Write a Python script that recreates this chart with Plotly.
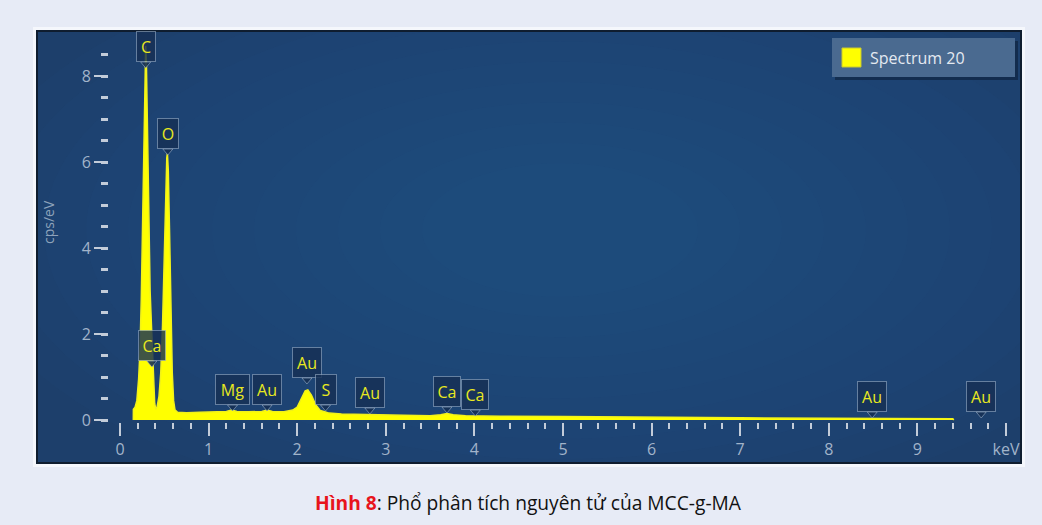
import plotly.graph_objects as go

# ---- spectrum (keV, counts per second per eV) ----
energy_kev = [0.150, 0.151, 0.17, 0.19, 0.21, 0.225, 0.24, 0.255, 0.27, 0.283, 0.29, 0.298,
              0.31, 0.325, 0.34, 0.355, 0.368, 0.38, 0.392, 0.405, 0.42, 0.44, 0.46, 0.48,
              0.50, 0.515, 0.528, 0.535, 0.545, 0.56, 0.575, 0.59, 0.605, 0.62, 0.65, 0.75,
              0.9, 1.1, 1.2, 1.26, 1.32, 1.45, 1.6, 1.66, 1.72, 1.85, 1.95, 2.0, 2.05, 2.09,
              2.12, 2.16, 2.21, 2.26, 2.31, 2.36, 2.5, 2.8, 3.2, 3.5, 3.62, 3.69, 3.76, 3.9,
              4.01, 4.3, 5.0, 6.0, 7.0, 8.0, 8.5, 9.0, 9.4, 9.41]
counts_cps = [0.00, 0.25, 0.30, 0.45, 0.95, 1.6, 2.8, 4.6, 7.0, 8.4, 8.7, 8.3,
              6.8, 4.6, 3.0, 2.2, 1.5, 0.8, 0.38, 0.25, 0.32, 0.55, 1.1, 2.2,
              3.9, 5.4, 6.1, 6.2, 5.8, 4.3, 2.4, 1.1, 0.45, 0.24, 0.18, 0.17,
              0.18, 0.19, 0.2, 0.23, 0.2, 0.19, 0.2, 0.23, 0.2, 0.19, 0.23, 0.3, 0.5, 0.68,
              0.7, 0.58, 0.35, 0.22, 0.19, 0.16, 0.14, 0.12, 0.11, 0.1, 0.12, 0.15, 0.12, 0.1,
              0.1, 0.09, 0.08, 0.06, 0.05, 0.04, 0.04, 0.03, 0.03, 0.0]

# ---- element markers ----
peak_labels = ["C", "O", "Ca", "Mg", "Au", "Au", "S", "Au", "Ca", "Ca", "Au", "Au"]
peak_kev = [0.29, 0.54, 0.36, 1.27, 1.66, 2.11, 2.32, 2.82, 3.69, 4.01, 8.49, 9.72]

x_tick_vals = [0, 1, 2, 3, 4, 5, 6, 7, 8, 9, 10]
x_tick_text = ["0", "1", "2", "3", "4", "5", "6", "7", "8", "9", "keV"]
y_tick_vals = [0, 2, 4, 6, 8]
y_tick_text = ["0", "2", "4", "6", "8"]

series_name = "Spectrum 20"
y_title = "cps/eV"
caption_head = "Hình 8"
caption_tail = ": Phổ phân tích nguyên tử của MCC-g-MA"

# ---- geometry (pixels) ----
W, H = 1042, 525
PL, PR, PT, PB = 109, 1019, 38, 422       # plot area edges
X0_PX, PX_PER_KEV = 120, 88.6             # x = 0 keV position and scale
Y0_PX, PX_PER_CPS = 420, 43.0             # y = 0 position and scale


def px(x):
    return (x - PL) / (PR - PL)


def py(y):
    return (PB - y) / (PB - PT)


def ydata(pix):
    return (Y0_PX - pix) / PX_PER_CPS


FONT = "Open Sans"
TICK_COLOR = "#a2b4ca"
TICK_LINE = "#c3ccd9"

fig = go.Figure()

fig.add_trace(go.Scatter(
    x=energy_kev, y=counts_cps, mode="lines", name=series_name,
    line=dict(color="#f2f21a", width=1.5),
    fill="tozeroy", fillcolor="#ffff00", showlegend=False,
    hoverinfo="x+y",
))

shapes = []

# page frame and panel
shapes.append(dict(type="rect", xref="paper", yref="paper",
                   x0=px(33), x1=px(1025), y0=py(27), y1=py(467),
                   fillcolor="#f5f7fc", line=dict(width=0), layer="below"))
shapes.append(dict(type="rect", xref="paper", yref="paper",
                   x0=px(37), x1=px(1021), y0=py(31), y1=py(463),
                   fillcolor="#1d3f6b", line=dict(color="#0f1d2f", width=2), layer="below"))
# soft lighter glow towards the middle of the panel
n_glow = 12
for i in range(n_glow):
    f = 1.0 - i * 0.07
    cx, cy = 560, 230
    hw, hh = 600 * f, 290 * f
    shapes.append(dict(type="circle", xref="paper", yref="paper",
                       x0=px(cx - hw), x1=px(cx + hw),
                       y0=py(cy - hh), y1=py(cy + hh),
                       fillcolor="#3a6ea3", opacity=0.035, line=dict(width=0), layer="below"))
# re-cover the glow spilling past the panel edges with the page colour
for x0, x1, y0, y1 in [(0, 33, 0, H), (1025, W, 0, H), (0, W, 0, 27), (0, W, 467, H)]:
    shapes.append(dict(type="rect", xref="paper", yref="paper",
                       x0=px(x0), x1=px(x1), y0=py(y0), y1=py(y1),
                       fillcolor="#e7ebf6", line=dict(width=0), layer="below"))
for x0, x1, y0, y1 in [(33, 37, 27, 467), (1021, 1025, 27, 467), (33, 1025, 27, 31), (33, 1025, 463, 467)]:
    shapes.append(dict(type="rect", xref="paper", yref="paper",
                       x0=px(x0), x1=px(x1), y0=py(y0), y1=py(y1),
                       fillcolor="#f5f7fc", line=dict(width=0), layer="below"))
shapes.append(dict(type="rect", xref="paper", yref="paper",
                   x0=px(37), x1=px(1021), y0=py(31), y1=py(463),
                   fillcolor="rgba(0,0,0,0)", line=dict(color="#0f1d2f", width=2), layer="below"))

# legend box
shapes.append(dict(type="rect", xref="paper", yref="paper",
                   x0=px(835), x1=px(1018), y0=py(41), y1=py(80),
                   fillcolor="rgba(8,20,38,0.45)", line=dict(width=0)))
shapes.append(dict(type="rect", xref="paper", yref="paper",
                   x0=px(832), x1=px(1015), y0=py(38), y1=py(77),
                   fillcolor="#4a6a90", line=dict(width=0)))
shapes.append(dict(type="rect", xref="paper", yref="paper",
                   x0=px(842), x1=px(861), y0=py(48), y1=py(67),
                   fillcolor="#ffff00", line=dict(color="#c8c830", width=1)))

annotations = []

# element tag boxes: bottom edge pixel, tag width
tag_bottom_px = [62, 149, 361, 405, 405, 378, 405, 408, 407, 410, 412, 412]
tag_width = {"C": 14, "O": 16, "Ca": 22, "Mg": 29, "Au": 24, "S": 16}
NOTCH = 6
for name, kev, bot in zip(peak_labels, peak_kev, tag_bottom_px):
    tip = ydata(bot + NOTCH)
    annotations.append(dict(
        x=kev, y=tip, xref="x", yref="y", text=name, showarrow=False,
        yanchor="bottom", yshift=NOTCH, width=tag_width[name], height=25,
        bgcolor="rgba(22,48,84,0.82)", bordercolor="rgba(165,185,210,0.55)",
        borderwidth=1, borderpad=2,
        font=dict(family=FONT, size=16, color="#e8e820"),
    ))
    shapes.append(dict(
        type="path", xref="x", yref="y", xsizemode="pixel", ysizemode="pixel",
        xanchor=kev, yanchor=tip, path=f"M -5 {NOTCH} L 0 0 L 5 {NOTCH} Z",
        fillcolor="rgba(22,48,84,0.9)", line=dict(color="rgba(165,185,210,0.55)", width=1),
    ))

# legend text
annotations.append(dict(x=px(868), y=py(58), xref="paper", yref="paper",
                        text=series_name, showarrow=False, xanchor="left", yanchor="middle",
                        font=dict(family=FONT, size=16, color="#e4e9f0")))
# y axis title
annotations.append(dict(x=px(48), y=py(222), xref="paper", yref="paper",
                        text=y_title, showarrow=False, textangle=-90,
                        xanchor="center", yanchor="middle",
                        font=dict(family=FONT, size=14, color="#8ea2bb")))
# caption
annotations.append(dict(x=px(528), y=py(502), xref="paper", yref="paper",
                        text=f"<b><span style='color:#e8141c'>{caption_head}</span></b>{caption_tail}",
                        showarrow=False, xanchor="center", yanchor="middle",
                        font=dict(family=FONT, size=19.2, color="#111111")))

fig.update_layout(
    width=W, height=H,
    margin=dict(l=PL, r=W - PR, t=PT, b=H - PB, pad=0),
    paper_bgcolor="#e7ebf6", plot_bgcolor="rgba(0,0,0,0)",
    showlegend=False,
    shapes=shapes, annotations=annotations,
    xaxis=dict(
        range=[(PL - X0_PX) / PX_PER_KEV, (PR - X0_PX) / PX_PER_KEV],
        tickvals=x_tick_vals, ticktext=x_tick_text,
        ticks="outside", ticklen=13, tickwidth=2, tickcolor=TICK_LINE,
        minor=dict(dtick=0.2, tick0=0, ticks="outside", ticklen=6, tickwidth=2,
                   tickcolor=TICK_LINE, showgrid=False),
        tickfont=dict(family=FONT, size=16, color=TICK_COLOR),
        showgrid=False, zeroline=False, showline=False, fixedrange=True,
    ),
    yaxis=dict(
        range=[(Y0_PX - PB) / PX_PER_CPS, (Y0_PX - PT) / PX_PER_CPS],
        tickvals=y_tick_vals, ticktext=y_tick_text,
        ticks="outside", ticklen=14, tickwidth=2, tickcolor=TICK_LINE,
        minor=dict(dtick=0.5, tick0=0, ticks="outside", ticklen=7, tickwidth=3,
                   tickcolor=TICK_LINE, showgrid=False),
        tickfont=dict(family=FONT, size=16, color=TICK_COLOR),
        showgrid=False, zeroline=False, showline=False, fixedrange=True,
    ),
)

fig.write_html("out.html")
